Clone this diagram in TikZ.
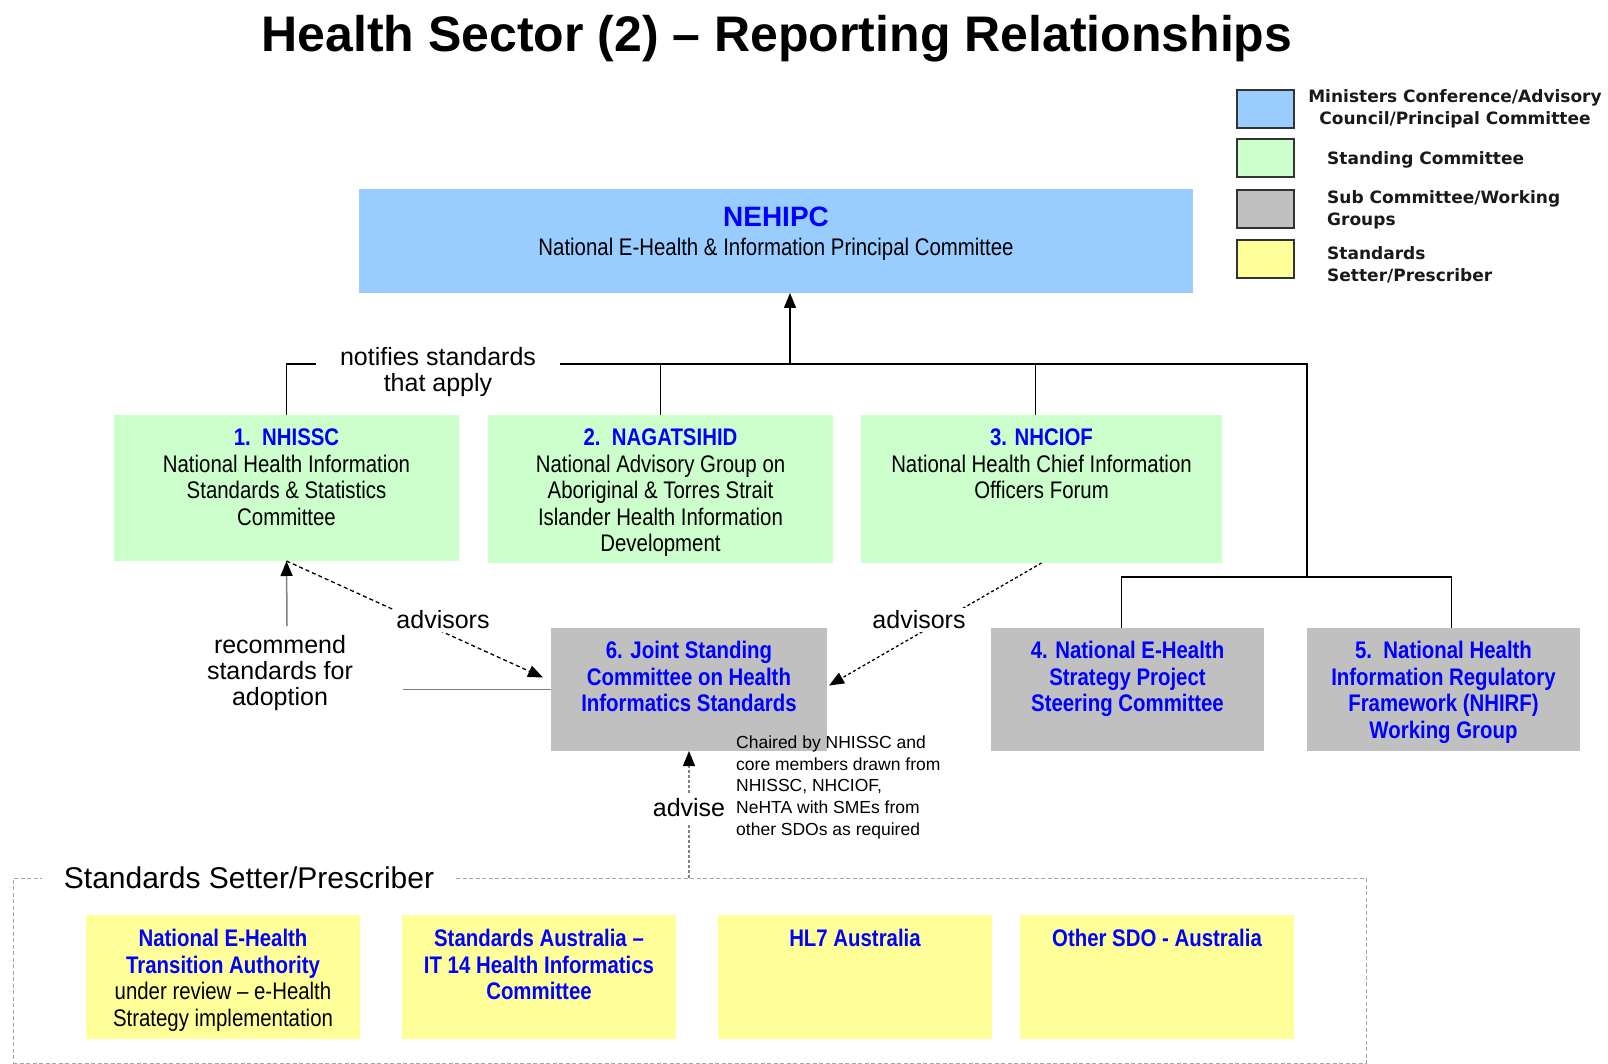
\documentclass[tikz,border=0pt]{standalone}
\usepackage{fontspec}
\setmainfont{Liberation Sans}
\newfontfamily\narrowfont[FakeStretch=0.85]{Liberation Sans}
\newfontfamily\legendfont{DejaVu Sans}
\usetikzlibrary{arrows.meta,calc}
\definecolor{nehblue}{HTML}{99CCFF}
\definecolor{stgreen}{HTML}{CCFFCC}
\definecolor{subgray}{HTML}{C0C0C0}
\definecolor{sdoyellow}{HTML}{FFFF99}
\definecolor{txtblue}{HTML}{0000FF}
\definecolor{linegray}{HTML}{808080}
\definecolor{framegray}{HTML}{A6A6A6}
\newcommand{\hd}[1]{{\bfseries\color{txtblue}#1}}
\begin{document}
\begin{tikzpicture}[x=1pt,y=-1pt,
  panel/.style={inner sep=0pt, outer sep=0pt, draw=none, fill=#1},
  boxtext/.style={anchor=north, align=center, inner sep=0pt,
    font=\narrowfont\fontsize{24}{26.5}\selectfont},
  note/.style={align=center, inner sep=0pt, font=\fontsize{25}{26}\selectfont},
  legbox/.style={draw=black!80, line width=1.6pt, fill=#1, minimum width=57, minimum height=38, inner sep=0pt},
  legtext/.style={inner sep=0pt, font=\legendfont\bfseries\fontsize{17}{21.5}\selectfont, text=black!90},
  link/.style={line width=1.3pt, draw=black},
  tip/.style={-{Triangle[length=15pt,width=12pt,color=black]}},
  adv/.style={link, dashed, dash pattern=on 4pt off 3pt, tip},
]
\useasboundingbox (0,0) rectangle (1608,1064);

% title
\node[inner sep=0pt, font=\bfseries\fontsize{50}{56}\selectfont] (title) at (777,39) {Health Sector (2) – Reporting Relationships};

% legend
\node[legbox=nehblue] (l1) at (1265.5,109) {};
\node[legbox=stgreen] (l2) at (1265.5,158) {};
\node[legbox=subgray] (l3) at (1265.5,209) {};
\node[legbox=sdoyellow] (l4) at (1265.5,259) {};
\node[legtext, align=center] (l1t) at (1455,109) {Ministers Conference/Advisory\\Council/Principal Committee};
\node[legtext, anchor=west] (l2t) at (1327,160) {Standing Committee};
\node[legtext, anchor=west, align=left] (l3t) at (1327,210) {Sub Committee/Working\\Groups};
\node[legtext, anchor=west, align=left] (l4t) at (1327,265) {Standards\\Setter/Prescriber};

% committee boxes
\node[panel=nehblue, minimum width=834, minimum height=104] (neh) at (776,241) {};
\node[panel=stgreen, minimum width=345, minimum height=146] (b1) at (286.5,488) {};
\node[panel=stgreen, minimum width=345, minimum height=148] (b2) at (660.5,489) {};
\node[panel=stgreen, minimum width=361, minimum height=148] (b3) at (1041.5,489) {};
\node[panel=subgray, minimum width=276, minimum height=123] (b6) at (689,689.5) {};
\node[panel=subgray, minimum width=273, minimum height=123] (b4) at (1127.5,689.5) {};
\node[panel=subgray, minimum width=273, minimum height=123] (b5) at (1443.5,689.5) {};

% standards setter frame and boxes
\node[draw=framegray, line width=1pt, dash pattern=on 4pt off 2.5pt, minimum width=1353, minimum height=185, inner sep=0pt] (sdo) at (689.5,970.5) {};
\node[panel=sdoyellow, minimum width=274, minimum height=124] (y1) at (223,977) {};
\node[panel=sdoyellow, minimum width=274, minimum height=124] (y2) at (539,977) {};
\node[panel=sdoyellow, minimum width=274, minimum height=124] (y3) at (855,977) {};
\node[panel=sdoyellow, minimum width=274, minimum height=124] (y4) at (1157,977) {};
\node[fill=white, inner xsep=22pt, inner ysep=2pt, font=\fontsize{30}{32}\selectfont] (sdot) at (249,878) {Standards Setter/Prescriber};

% box texts
\node[inner sep=0pt, font=\bfseries\fontsize{28}{30}\selectfont, text=txtblue] (nehT) at ([shift={(0,28)}]neh.north) {NEHIPC};
\node[inner sep=0pt, font=\narrowfont\fontsize{24}{26}\selectfont] (nehS) at ([shift={(0,60)}]neh.north) {National E-Health \& Information Principal Committee};
\node[boxtext] (b1t) at ([shift={(0,14)}]b1.north) {\hd{1.\ \ NHISSC}\\National Health Information\\Standards \& Statistics\\Committee};
\node[boxtext] (b2t) at ([shift={(0,14)}]b2.north) {\hd{2.\ \ NAGATSIHID}\\National Advisory Group on\\Aboriginal \& Torres Strait\\Islander Health Information\\Development};
\node[boxtext] (b3t) at ([shift={(0,14)}]b3.north) {\hd{3. NHCIOF}\\National Health Chief Information\\Officers Forum};
\node[boxtext] (b6t) at ([shift={(0,13)}]b6.north) {\hd{6. Joint Standing}\\\hd{Committee on Health}\\\hd{Informatics Standards}};
\node[boxtext] (b4t) at ([shift={(0,13)}]b4.north) {\hd{4. National E-Health}\\\hd{Strategy Project}\\\hd{Steering Committee}};
\node[boxtext] (b5t) at ([shift={(0,13)}]b5.north) {\hd{5.\ \ National Health}\\\hd{Information Regulatory}\\\hd{Framework (NHIRF)}\\\hd{Working Group}};
\node[boxtext] (y1t) at ([shift={(0,14)}]y1.north) {\hd{National E-Health}\\\hd{Transition Authority}\\under review – e-Health\\Strategy implementation};
\node[boxtext] (y2t) at ([shift={(0,14)}]y2.north) {\hd{Standards Australia –}\\\hd{IT 14 Health Informatics}\\\hd{Committee}};
\node[boxtext] (y3t) at ([shift={(0,14)}]y3.north) {\hd{HL7 Australia}};
\node[boxtext] (y4t) at ([shift={(0,14)}]y4.north) {\hd{Other SDO - Australia}};

% reporting lines
\coordinate (busR) at (1307,364);
\coordinate (split) at (1307,577);
\coordinate (bus) at (790,364);
\draw[link] (b1.north) |- (busR) -- (split);
\draw[link] (b2.north) -- (b2.north |- busR);
\draw[link] ([xshift=-6pt]b3.north) -- ([xshift=-6pt]b3.north |- busR);
\draw[link] ([xshift=-6pt]b4.north) |- (split) -| ([xshift=8pt]b5.north);
\draw[link, tip] (bus) -- (bus |- neh.south);
\node[note, fill=white, inner xsep=24pt, inner ysep=2pt] (notify) at (438,372) {notifies standards\\that apply};

% recommendation path
\coordinate (recbot) at (287,626);
\coordinate (recend) at (403,688);
\draw[line width=1.5pt, draw=linegray, tip] (recbot) -- (b1.south);
\draw[line width=1.5pt, draw=linegray] (b6.west) -- (b6.west -| recend);
\node[note] (rec) at (280,673) {recommend\\standards for\\adoption};

% advisory links
\draw[adv] (b1.south) -- ([shift={(-8,-12)}]b6.west);
\node[note, fill=white, inner sep=3pt] (adv1) at (443,620) {advisors};
\draw[adv, dash pattern=on 3pt off 2.5pt] (b3.south) -- ([shift={(2,-4)}]b6.east);
\node[note, fill=white, inner sep=3pt] (adv2) at (919,620) {advisors};

% advice from standards setters
\draw[line width=1.3pt, draw=linegray, dash pattern=on 2.5pt off 2.5pt, tip] (sdo.north -| b6.south) -- (b6.south);
\node[note, fill=white, inner xsep=2pt, inner ysep=6pt] (advise) at (689,808) {advise};
\node[anchor=north west, align=left, inner sep=0pt, font=\fontsize{17.5}{21.7}\selectfont] (chair) at (736,735.5) {Chaired by NHISSC and\\core members drawn from\\NHISSC, NHCIOF,\\NeHTA with SMEs from\\other SDOs as required};
\end{tikzpicture}
\end{document}
